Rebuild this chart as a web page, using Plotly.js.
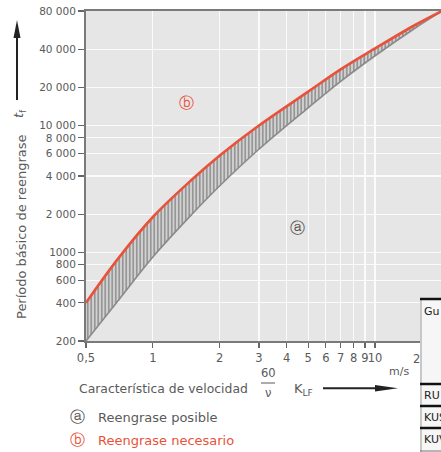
<!DOCTYPE html>
<html>
<head>
<meta charset="utf-8">
<script src="https://cdn.plot.ly/plotly-3.0.1.min.js"></script>
<style>html,body{margin:0;padding:0;background:#fff;}#chart{width:441px;height:452px;}</style>
</head>
<body>
<div id="chart"></div>
<script>
// ---- data ----
const speed = [0.5, 0.7, 1, 1.5, 2, 3, 5, 7, 10, 15, 20];
const lowerPeriod = [200, 420, 920, 2000, 3350, 6500, 13800, 22300, 35500, 58000, 80000];
const upperPeriod = [400, 900, 1900, 3750, 5800, 10000, 18500, 27700, 40500, 61500, 80000];
const xTickVals = [0.5, 1, 2, 3, 4, 5, 6, 7, 8, 9, 10];
const xTickText = ['0,5', '1', '2', '3', '4', '5', '6', '7', '8', '9', '10'];
const yTickVals = [200, 400, 600, 800, 1000, 2000, 4000, 6000, 8000, 10000, 20000, 40000, 80000];
const yTickText = ['200', '400', '600', '800', '1000', '2 000', '4 000', '6 000', '8 000', '10 000', '20 000', '40 000', '80 000'];
const yTitle = 'Período básico de reengrase';
const xTitle = 'Característica de velocidad';
const legendA = 'Reengrase posible';
const legendB = 'Reengrase necesario';
const tableRows = ['Gu', 'RU', 'KUS', 'KUV'];

// ---- geometry helpers (pixel -> paper) ----
const W = 441, H = 452, L = 86, T = 11, B = 111, R = 0;
const PW = W - L - R, PH = H - T - B;
const PX = p => (p - L) / PW;
const PY = p => (H - B - p) / PH;
const poly = pts => 'M ' + pts.map(p => PX(p[0]) + ',' + PY(p[1])).join(' L ') + ' Z';

const red = '#e8523a';
const grey = '#8a8a8a';
const txt = '#5a5a5a';
const F = 'DejaVu Sans, sans-serif';

const traces = [
  {x: speed, y: lowerPeriod, type: 'scatter', mode: 'lines',
   line: {color: grey, width: 1.6, shape: 'spline', smoothing: 1}, hoverinfo: 'skip'},
  {x: speed, y: upperPeriod, type: 'scatter', mode: 'lines', fill: 'tonexty',
   fillcolor: '#c9c9c9',
   fillpattern: {shape: '|', size: 3.5, solidity: 0.35, fgcolor: '#7d7d7d', bgcolor: '#d2d2d2'},
   line: {color: red, width: 2.6, shape: 'spline', smoothing: 1}, hoverinfo: 'skip'}
];

const ann = [];
function txtAnn(text, px, py, o) {
  ann.push(Object.assign({text: text, x: PX(px), y: PY(py), xref: 'paper', yref: 'paper',
    showarrow: false, xanchor: 'center', yanchor: 'middle',
    font: {family: F, size: 13, color: txt}}, o || {}));
}
// circled markers in plot
txtAnn('ⓑ', 186, 103, {font: {family: F, size: 15, color: red}});
txtAnn('ⓐ', 297, 228, {font: {family: F, size: 15, color: '#555'}});
// y title
txtAnn(yTitle, 21, 227, {textangle: -90});
txtAnn('<i>t</i><sub>f</sub>', 19, 114, {textangle: -90});
// x title
txtAnn(xTitle, 77, 388, {xanchor: 'left', font: {family: F, size: 12.4, color: txt}});
txtAnn('60', 268, 373, {font: {family: F, size: 11.5, color: txt}});
txtAnn('ν', 268, 393, {font: {family: F, size: 11.5, color: txt}});
txtAnn('K<sub>LF</sub>', 292, 389, {xanchor: 'left', font: {family: F, size: 13, color: txt}});
txtAnn('m/s', 399, 371, {font: {family: F, size: 11, color: txt}});
txtAnn('2', 416, 359, {font: {family: F, size: 11.5, color: txt}});
// legend
txtAnn('ⓐ', 77, 417, {font: {family: F, size: 15, color: '#555'}});
txtAnn(legendA, 96, 417, {xanchor: 'left'});
txtAnn('ⓑ', 77, 440, {font: {family: F, size: 15, color: red}});
txtAnn(legendB, 96, 440, {xanchor: 'left', font: {family: F, size: 13, color: red}});
// table fragment
const rowY = [311, 395, 417, 439];
tableRows.forEach((r, i) => txtAnn(r, 422, rowY[i], {xanchor: 'left', font: {family: F, size: 11, color: '#222'}}));

const line = (x0, y0, x1, y1, color, width, layer) => ({type: 'line', xref: 'paper', yref: 'paper',
  x0: PX(x0), x1: PX(x1), y0: PY(y0), y1: PY(y1), line: {color: color, width: width}, layer: layer || 'above'});

const shapes = [
  {type: 'rect', xref: 'paper', yref: 'paper', x0: PX(420), x1: PX(450), y0: PY(452), y1: PY(299),
   fillcolor: '#f6f6f6', line: {width: 0}, layer: 'above'},
  line(421, 299, 421, 452, '#999', 1),
  line(420, 299, 450, 299, '#111', 2.5),
  line(420, 384, 450, 384, '#111', 2.5),
  line(420, 406, 450, 406, '#111', 2.5),
  line(420, 428, 450, 428, '#111', 2.5),
  line(420, 451, 450, 451, '#777', 1),
  // fraction bar
  line(261, 383, 275, 383, txt, 1),
  // y arrow
  line(17, 100, 17, 36, '#222', 2),
  {type: 'path', xref: 'paper', yref: 'paper', path: poly([[13.5, 38], [20.5, 38], [17, 20]]),
   fillcolor: '#222', line: {width: 0}, layer: 'above'},
  // x arrow
  line(323, 388.3, 377, 388.3, '#222', 2),
  {type: 'path', xref: 'paper', yref: 'paper', path: poly([[375, 385], [375, 391.6], [398, 388.3]]),
   fillcolor: '#222', line: {width: 0}, layer: 'above'}
];

const layout = {
  width: W, height: H,
  margin: {l: L, r: R, t: T, b: B, pad: 0},
  paper_bgcolor: '#ffffff', plot_bgcolor: '#e6e6e6',
  showlegend: false,
  font: {family: F, size: 12, color: txt},
  xaxis: {type: 'log', range: [Math.log10(0.5), Math.log10(19.8)],
    tickvals: xTickVals, ticktext: xTickText, tickangle: 0, ticks: 'outside', ticklen: 5, tickwidth: 1.2,
    tickcolor: '#666', showline: true, linecolor: '#7a7a7a', linewidth: 2, mirror: true,
    showgrid: true, gridcolor: '#fbfbfb', gridwidth: 1.2, zeroline: false,
    tickfont: {family: F, size: 11.5, color: txt}, fixedrange: true},
  yaxis: {type: 'log', range: [Math.log10(200), Math.log10(80000)],
    tickvals: yTickVals, ticktext: yTickText, ticks: 'outside', ticklen: 6, tickwidth: 1.2,
    tickcolor: '#666', showline: true, linecolor: '#7a7a7a', linewidth: 2,
    showgrid: true, gridcolor: '#fbfbfb', gridwidth: 1.2, zeroline: false,
    tickfont: {family: F, size: 10.5, color: txt}, fixedrange: true},
  annotations: ann,
  shapes: shapes
};

Plotly.newPlot('chart', traces, layout, {displayModeBar: false, staticPlot: true});
</script>
</body>
</html>
